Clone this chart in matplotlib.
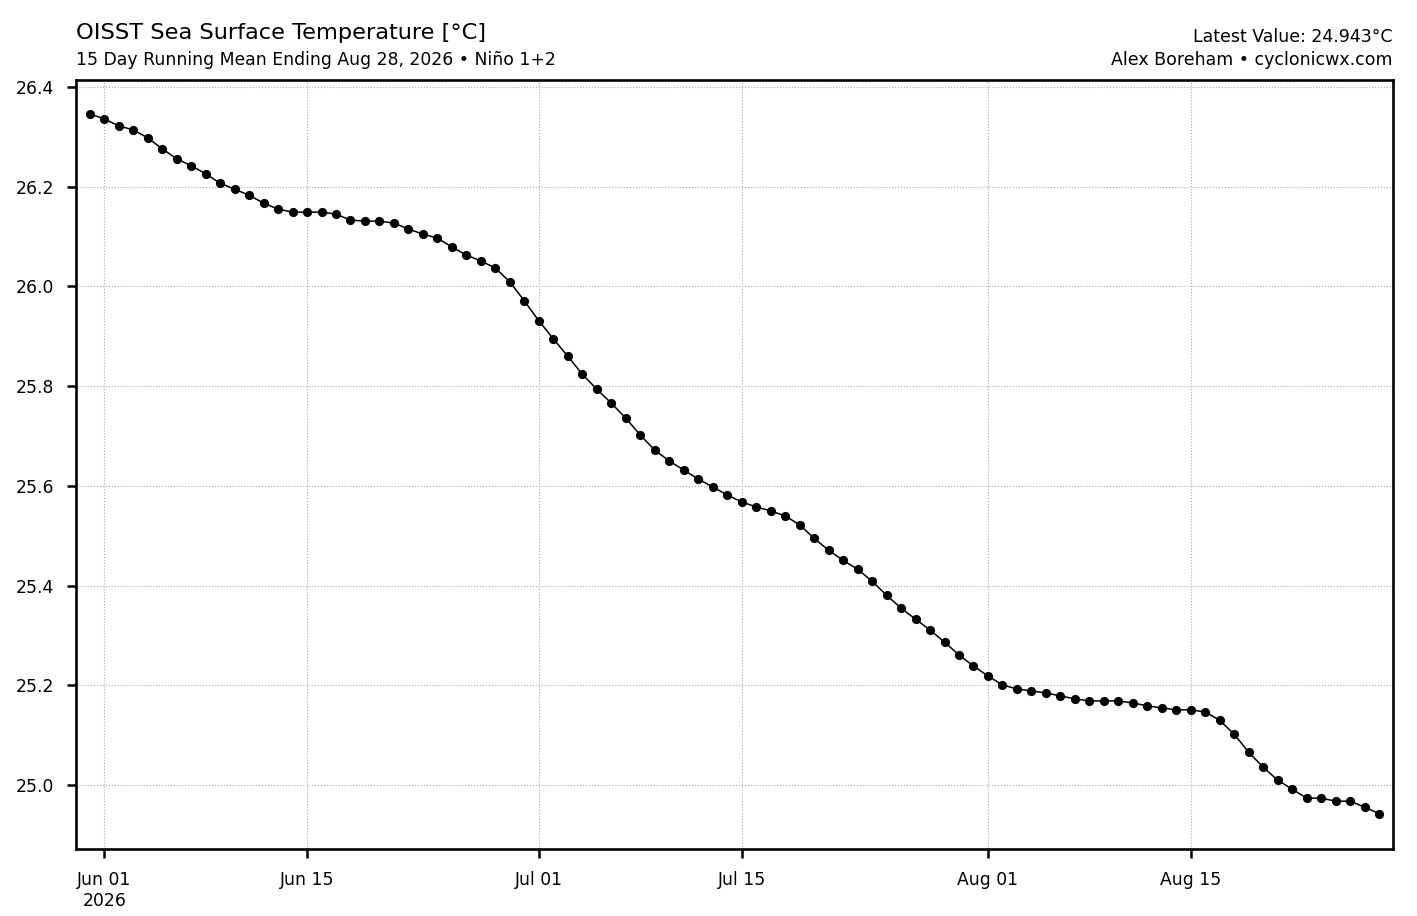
import numpy as np
import pandas as pd
import matplotlib
matplotlib.use("Agg")
import matplotlib.pyplot as plt

# 15 day running mean SST, Nino 1+2, May 31 - Aug 28 2026
start_date = "2026-05-31"
end_date = "2026-08-28"
sst_values = [
    26.346,
    26.336, 26.322, 26.314, 26.298, 26.276, 26.256, 26.242, 26.226, 26.207, 26.195,
    26.183, 26.167, 26.155, 26.149, 26.149, 26.149, 26.145, 26.133, 26.131, 26.131,
    26.127, 26.115, 26.105, 26.097, 26.079, 26.063, 26.051, 26.037, 26.009, 25.971,
    25.931, 25.895, 25.860, 25.824, 25.794, 25.766, 25.736, 25.702, 25.672, 25.650,
    25.632, 25.614, 25.598, 25.582, 25.568, 25.558, 25.550, 25.540, 25.522, 25.495,
    25.471, 25.451, 25.433, 25.409, 25.381, 25.355, 25.333, 25.311, 25.287, 25.261,
    25.239,
    25.219, 25.201, 25.193, 25.189, 25.185, 25.179, 25.173, 25.169, 25.169, 25.169,
    25.165, 25.159, 25.155, 25.151, 25.151, 25.147, 25.130, 25.102, 25.066, 25.036,
    25.010, 24.992, 24.974, 24.974, 24.968, 24.968, 24.956, 24.943,
]
tick_dates = ["2026-06-01", "2026-06-15", "2026-07-01", "2026-07-15", "2026-08-01", "2026-08-15"]
tick_labels = ["Jun 01\n2026", "Jun 15", "Jul 01", "Jul 15", "Aug 01", "Aug 15"]
y_ticks = [25.0, 25.2, 25.4, 25.6, 25.8, 26.0, 26.2, 26.4]

dates = pd.date_range(start_date, end_date, freq="D")

fig = plt.figure(figsize=(7.085, 4.58), dpi=200)
ax = fig.add_axes([0.0536, 0.0731, 0.9294, 0.8396])

ax.plot(dates, sst_values, color="black", linewidth=0.55, marker="o", markersize=2.3, zorder=3)

ax.set_xlim(dates[0] - pd.Timedelta(days=0.95), dates[-1] + pd.Timedelta(days=0.95))
ax.set_ylim(24.872, 26.414)
ax.set_xticks(pd.to_datetime(tick_dates))
ax.set_xticklabels(tick_labels)
ax.set_yticks(y_ticks)
ax.set_yticklabels([f"{v:.1f}" for v in y_ticks])
ax.tick_params(labelsize=6.2, width=0.9, length=3.3, pad=4.5)
ax.grid(True, linestyle=":", linewidth=0.4, color="#aaaaaa")
for s in ax.spines.values():
    s.set_linewidth(0.95)

fig.text(0.0536, 0.957, "OISST Sea Surface Temperature [°C]", fontsize=8.1, ha="left", va="baseline")
fig.text(0.0536, 0.929, "15 Day Running Mean Ending Aug 28, 2026 • Niño 1+2", fontsize=6.22, ha="left", va="baseline")
fig.text(0.983, 0.954, f"Latest Value: {sst_values[-1]:.3f}°C", fontsize=6.25, ha="right", va="baseline")
fig.text(0.983, 0.929, "Alex Boreham • cyclonicwx.com", fontsize=6.25, ha="right", va="baseline")

fig.savefig("out.png", dpi=200)
